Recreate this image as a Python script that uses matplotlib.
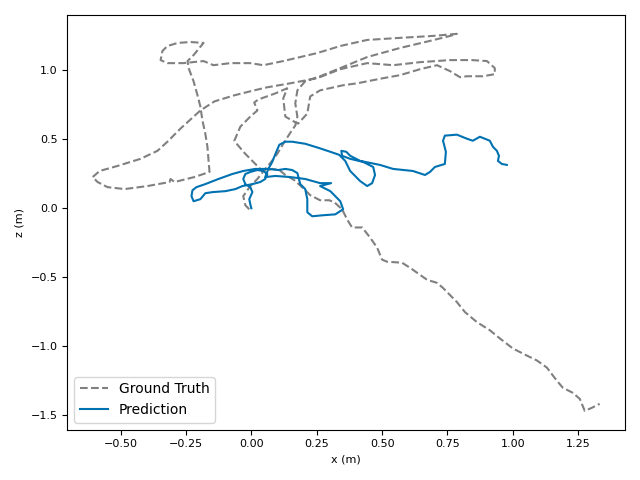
import matplotlib
matplotlib.use("Agg")
import matplotlib.pyplot as plt

# ground truth trajectory (x, z) in metres
gt_x = [-0.008, -0.023, -0.031, -0.004, 0.023, 0.050, 0.076, 0.099, 0.122, 0.149, 0.168,
        0.176, 0.168, 0.176, 0.206, 0.263, 0.340, 0.443, 0.569, 0.683, 0.760, 0.786,
        0.695, 0.569, 0.443, 0.340, 0.252, 0.122, 0.046, -0.004, -0.080, -0.145, -0.183, -0.260, -0.321, -0.347, -0.340, -0.321, -0.282, -0.233, -0.183,
        -0.221, -0.244, -0.240, -0.221, -0.206, -0.195, -0.187, -0.176, -0.168, -0.164, -0.160,
        -0.218, -0.294, -0.309, -0.313, -0.397, -0.485, -0.550, -0.588, -0.607, -0.580, -0.511, -0.424, -0.359, -0.321, -0.271, -0.195, -0.141, -0.065, 0.011, 0.061,
        0.149, 0.252, 0.340, 0.443, 0.542, 0.645, 0.760, 0.844, 0.901, 0.931, 0.931, 0.885, 0.824, 0.798, 0.760, 0.710, 0.645, 0.569, 0.504, 0.405, 0.351, 0.263, 0.225, 0.214, 0.179,
        0.156, 0.130, 0.122, 0.137, 0.092, 0.027, 0.011, 0.023, -0.004, -0.042, -0.065, -0.053, -0.023, 0.015, 0.042,
        0.080, 0.107, 0.130, 0.164, 0.202, 0.225, 0.263, 0.298, 0.317, 0.347, 0.366, 0.385,
        0.424, 0.454, 0.481, 0.500, 0.519, 0.576, 0.607, 0.645, 0.672, 0.710, 0.733, 0.786, 0.817, 0.863, 0.912, 0.950, 1.000, 1.053, 1.092, 1.130, 1.168, 1.191, 1.229, 1.256, 1.275, 1.302, 1.332]
gt_z = [-0.007, 0.022, 0.088, 0.161, 0.212, 0.277, 0.336, 0.394, 0.467, 0.547, 0.599,
        0.664, 0.759, 0.854, 0.920, 0.956, 1.015, 1.095, 1.161, 1.212, 1.248, 1.263,
        1.248, 1.234, 1.219, 1.175, 1.124, 1.066, 1.036, 1.051, 1.051, 1.036, 1.066, 1.051, 1.051, 1.073, 1.139, 1.175, 1.197, 1.204, 1.197,
        1.109, 1.066, 1.015, 0.920, 0.818, 0.737, 0.635, 0.540, 0.445, 0.358, 0.263,
        0.226, 0.190, 0.212, 0.190, 0.161, 0.139, 0.153, 0.190, 0.226, 0.270, 0.307, 0.358, 0.416, 0.482, 0.577, 0.708, 0.774, 0.818, 0.854, 0.876,
        0.905, 0.942, 1.007, 1.051, 1.036, 1.058, 1.073, 1.073, 1.066, 1.015, 0.971, 0.956, 0.956, 0.949, 0.993, 1.036, 1.007, 0.964, 0.942, 0.905, 0.891, 0.854, 0.810, 0.686, 0.613,
        0.635, 0.664, 0.796, 0.869, 0.832, 0.788, 0.766, 0.708, 0.664, 0.591, 0.489, 0.460, 0.394, 0.321, 0.270,
        0.285, 0.277, 0.241, 0.204, 0.139, 0.095, 0.058, 0.058, 0.044, -0.007, -0.080, -0.139,
        -0.139, -0.212, -0.285, -0.372, -0.387, -0.394, -0.431, -0.482, -0.518, -0.540, -0.577, -0.679, -0.752, -0.825, -0.883, -0.942, -1.015, -1.066, -1.102, -1.153, -1.248, -1.299, -1.336, -1.380, -1.467, -1.445, -1.416]

# predicted trajectory
pred_x = [0.000, -0.004, -0.008, 0.004, -0.004, -0.023, -0.031, -0.023, -0.004, 0.023, 0.046, 0.061, 0.053, 0.034, 0.004,
          -0.034, -0.061, -0.099, -0.149, -0.176, -0.195, -0.221, -0.229, -0.225, -0.210, -0.176, -0.126, -0.073, -0.031,
          0.015, 0.065, 0.103, 0.130, 0.156, 0.176, 0.187, 0.206, 0.214, 0.214, 0.233, 0.271, 0.321, 0.351, 0.340, 0.302, 0.263,
          0.305, 0.263, 0.206, 0.149, 0.092, 0.053, 0.065, 0.080, 0.092, 0.107, 0.130, 0.156, 0.206, 0.256, 0.302, 0.336,
          0.359, 0.378, 0.416, 0.443, 0.462, 0.473, 0.466, 0.427, 0.378, 0.347, 0.344, 0.363, 0.378, 0.416,
          0.492, 0.542, 0.618, 0.664, 0.683, 0.702, 0.740, 0.744, 0.733, 0.740, 0.786, 0.824, 0.847, 0.874,
          0.912, 0.924, 0.939, 0.947, 0.943, 0.958, 0.977]
pred_z = [0.000, 0.029, 0.066, 0.117, 0.153, 0.175, 0.212, 0.248, 0.263, 0.277, 0.270, 0.248, 0.212, 0.190, 0.175,
          0.161, 0.139, 0.124, 0.117, 0.109, 0.066, 0.051, 0.088, 0.131, 0.153, 0.175, 0.212, 0.248, 0.270,
          0.285, 0.285, 0.277, 0.285, 0.277, 0.255, 0.175, 0.139, 0.066, -0.029, -0.058, -0.051, -0.044, -0.007, 0.051, 0.124, 0.161,
          0.182, 0.182, 0.212, 0.226, 0.234, 0.226, 0.285, 0.336, 0.394, 0.460, 0.482, 0.482, 0.467, 0.438, 0.409, 0.387,
          0.343, 0.270, 0.197, 0.161, 0.182, 0.241, 0.299, 0.336, 0.358, 0.380, 0.416, 0.409, 0.380, 0.343,
          0.314, 0.285, 0.270, 0.241, 0.263, 0.299, 0.321, 0.409, 0.489, 0.526, 0.533, 0.504, 0.489, 0.518,
          0.489, 0.445, 0.416, 0.380, 0.343, 0.321, 0.314]

fig, ax = plt.subplots(figsize=(6.4, 4.8), dpi=100)
ax.plot(gt_x, gt_z, linestyle="--", color="gray", label="Ground Truth")
ax.plot(pred_x, pred_z, color="#0072b2", label="Prediction")
ax.set_xlabel("x (m)", fontsize=8)
ax.set_ylabel("z (m)", fontsize=8)
ax.tick_params(labelsize=8)
ax.legend(loc="lower left")
fig.tight_layout()
fig.savefig("out.png")
